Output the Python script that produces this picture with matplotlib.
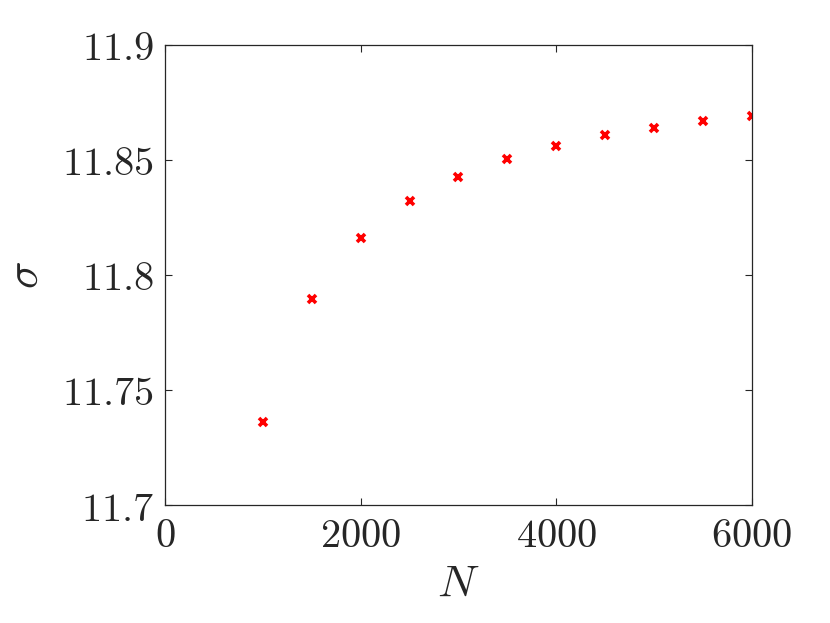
import matplotlib
matplotlib.use("Agg")
import matplotlib.pyplot as plt
from matplotlib.ticker import FuncFormatter

plt.rcParams['mathtext.fontset'] = 'cm'

# data
N = [1000, 1500, 2000, 2500, 3000, 3500, 4000, 4500, 5000, 5500, 6000]
sigma = [11.7361, 11.7896, 11.8161, 11.8322, 11.8426, 11.8503, 11.8561,
         11.8607, 11.8639, 11.8669, 11.8691]
xticks = [0, 2000, 4000, 6000]
yticks = [11.7, 11.75, 11.8, 11.85, 11.9]

fig = plt.figure(figsize=(8.3, 6.23), dpi=100)
ax = fig.add_axes([0.1988, 0.1894, 0.7072, 0.7384])

ax.plot(N, sigma, 'x', color='red', markersize=6, markeredgewidth=2.6)

ax.set_xlim(0, 6000)
ax.set_ylim(11.7, 11.9)
ax.set_xticks(xticks)
ax.set_yticks(yticks)
fmt = FuncFormatter(lambda v, p: '$%g$' % v)
ax.xaxis.set_major_formatter(fmt)
ax.yaxis.set_major_formatter(fmt)

ax.tick_params(direction='in', length=5, width=0.8, colors='#262626',
               labelsize=29, top=True, right=True, pad=8)
for s in ax.spines.values():
    s.set_color('#262626')
    s.set_linewidth(0.9)

ax.set_xlabel('$N$', fontsize=33, color='#262626', labelpad=4)
ax.set_ylabel(r'$\sigma$', fontsize=33, color='#262626', labelpad=10)

fig.savefig('out.png', dpi=100)
